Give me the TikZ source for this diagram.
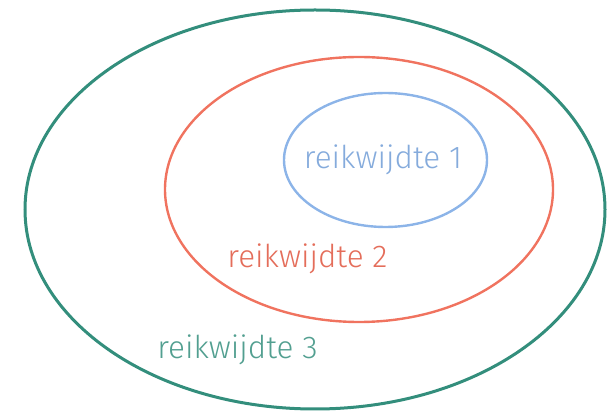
\documentclass[tikz,border=0pt]{standalone}
\usepackage{fontspec}
\setmainfont{Fira Sans}[UprightFont=* Light]
\usepackage{xcolor}
\usetikzlibrary{shapes.geometric}
\definecolor{scopeA}{HTML}{8CB4E8}
\definecolor{scopeB}{HTML}{F0735F}
\definecolor{scopeC}{HTML}{338E7C}
\tikzset{
  ring/.style  = {ellipse, draw, inner sep=0pt, fill=none},
  ringA/.style = {ring, draw=scopeA, line width=2.4pt},
  ringB/.style = {ring, draw=scopeB, line width=2.4pt},
  ringC/.style = {ring, draw=scopeC, line width=3pt},
  lbl/.style   = {inner sep=0pt, font=\fontsize{31.5}{34}\selectfont}
}

\begin{document}
\begin{tikzpicture}[x=1pt, y=-1pt]
    \useasboundingbox (0,0) rectangle (608,411);

    % ---- Scopes ----
    \node[ringC, minimum width=580pt, minimum height=399pt] (s3) at (315,209.5) {};
    \node[ringB, minimum width=388pt, minimum height=265pt] (s2) at (359,189.5) {};
    \node[ringA, minimum width=203pt, minimum height=134pt] (s1) at (385.5,160) {};

    % ---- Labels ----
    \node[lbl, text=scopeA!95!black] (l1) at (383,160) {reikwijdte 1};
    \node[lbl, text=scopeB!95!black] (l2) at (307.5,259) {reikwijdte 2};
    \node[lbl, text=scopeC!85!white] (l3) at (237.5,350) {reikwijdte 3};
\end{tikzpicture}
\end{document}
